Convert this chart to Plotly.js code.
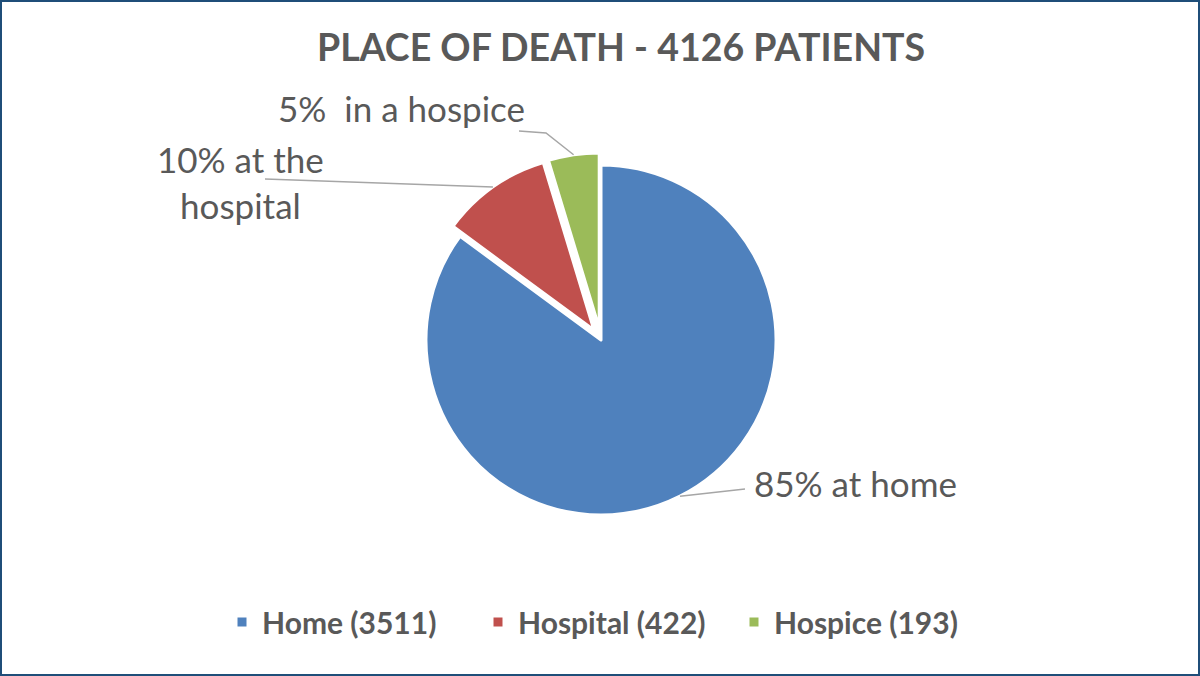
<!DOCTYPE html>
<html>
<head>
<meta charset="utf-8">
<script src="https://cdn.plot.ly/plotly-3.0.1.min.js"></script>
<style>
  html, body { margin: 0; padding: 0; background: #fff; }
  #wrap { position: relative; width: 1200px; height: 676px; }
  #chart { width: 1200px; height: 676px; }
  #frame { position: absolute; left: 0; top: 0; right: 0; bottom: 0;
           border: 2px solid #1F4E79; pointer-events: none; }
</style>
</head>
<body>
<div id="wrap">
  <div id="chart"></div>
  <div id="frame"></div>
</div>
<script>
// Chart data
const places = ['Home', 'Hospital', 'Hospice'];
const patients = [3511, 422, 193];
const sliceLabels = ['85% at home', '10% at the<br>hospital', '5%  in a hospice'];
const colors = ['#4F81BD', '#C0504D', '#9BBB59'];
const pulls = [0, 0.07, 0.07];

const W = 1200, H = 676;
const FONT = 'Lato, "Open Sans", sans-serif';
const TEXT = '#595959';

// where the (unpulled) pie should sit on the page
const cx = 601, cy = 340, r = 175;
const maxPull = Math.max(...pulls);
const half = r * (1 + maxPull);

const toPaperX = px => px / W;
const toPaperY = py => 1 - py / H;

// point on the outer arc at the middle of slice i (clockwise from 12 o'clock)
function arcMid(i) {
    const total = patients.reduce((a, b) => a + b, 0);
    const before = patients.slice(0, i).reduce((a, b) => a + b, 0);
    const ang = 2 * Math.PI * (before + patients[i] / 2) / total;
    const dist = r * (1 + pulls[i]);
    return [cx + dist * Math.sin(ang), cy - dist * Math.cos(ang)];
}

// label boxes and leader line bends, in pixels
const labelPos = [[855, 483], [240, 182], [401, 108]];
const leaderEnds = [
    [[745, 489]],
    [[265, 179]],
    [[546, 133], [519, 131]]
];

const shapes = leaderEnds.map((pts, i) => {
    const start = arcMid(i);
    const all = [start].concat(pts);
    const path = all.map((p, k) => (k ? 'L' : 'M') + toPaperX(p[0]) + ',' + toPaperY(p[1])).join(' ');
    return {
        type: 'path', xref: 'paper', yref: 'paper', path: path,
        line: { color: '#A6A6A6', width: 1.5 }
    };
});

const annotations = sliceLabels.map((txt, i) => ({
    text: txt,
    xref: 'paper', yref: 'paper',
    x: toPaperX(labelPos[i][0]), y: toPaperY(labelPos[i][1]),
    xanchor: 'center', yanchor: 'middle',
    align: 'center',
    showarrow: false,
    font: { family: FONT, size: 35, color: TEXT }
}));

const data = [{
    type: 'pie',
    labels: places.map((p, i) => p + ' (' + patients[i] + ')'),
    values: patients,
    sort: false,
    direction: 'clockwise',
    rotation: 0,
    pull: pulls,
    textinfo: 'none',
    hoverinfo: 'label+value+percent',
    marker: { colors: colors, line: { color: '#FFFFFF', width: 3 } },
    domain: {
        x: [toPaperX(cx - half), toPaperX(cx + half)],
        y: [toPaperY(cy + half), toPaperY(cy - half)]
    }
}];

const layout = {
    width: W,
    height: H,
    margin: { l: 0, r: 0, t: 0, b: 0 },
    paper_bgcolor: '#FFFFFF',
    title: {
        text: '<b>PLACE OF DEATH - 4126 PATIENTS</b>',
        font: { family: FONT, size: 37.5, color: TEXT },
        x: 0.5175, xref: 'paper',
        y: 1 - 48 / H, yref: 'container',
        xanchor: 'center', yanchor: 'middle'
    },
    showlegend: true,
    legend: {
        orientation: 'h',
        x: 0.505, xanchor: 'center',
        y: 1 - 622 / H, yanchor: 'middle',
        entrywidth: 211,
        font: { family: FONT, size: 30, color: TEXT, weight: 'bold' },
        itemclick: false
    },
    shapes: shapes,
    annotations: annotations
};

Plotly.newPlot('chart', data, layout, { displayModeBar: false, staticPlot: true });
</script>
</body>
</html>
